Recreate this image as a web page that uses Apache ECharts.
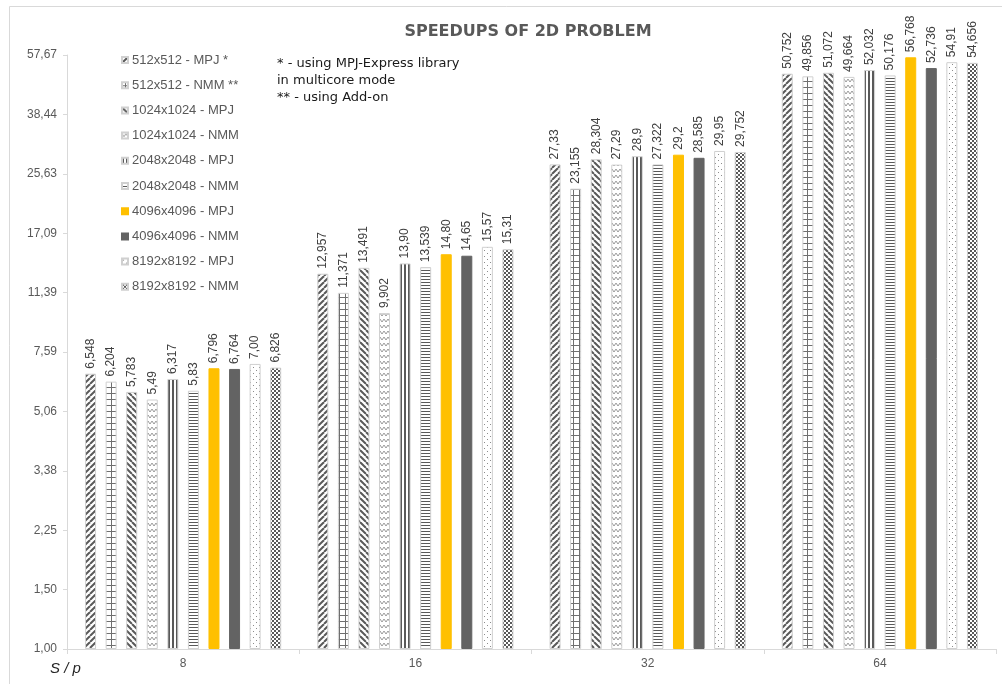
<!DOCTYPE html>
<html><head><meta charset="utf-8">
<script src="https://cdn.jsdelivr.net/npm/echarts@6/dist/echarts.min.js"></script>
<style>html,body{margin:0;padding:0;background:#fff}#c{width:1002px;height:684px}</style>
</head><body><div id="c"></div>
<script>
const categories = ['8', '16', '32', '64'];
const seriesNames = ['512x512 - MPJ *', '512x512 - NMM **', '1024x1024 - MPJ', '1024x1024 - NMM',
  '2048x2048 - MPJ', '2048x2048 - NMM', '4096x4096 - MPJ', '4096x4096 - NMM', '8192x8192 - MPJ', '8192x8192 - NMM'];
const v512MPJ   = ['6.548', '12.957', '27.33', '50.752'];
const v512NMM   = ['6.204', '11.371', '23.155', '49.856'];
const v1024MPJ  = ['5.783', '13.491', '28.304', '51.072'];
const v1024NMM  = ['5.49', '9.902', '27.29', '49.664'];
const v2048MPJ  = ['6.317', '13.90', '28.9', '52.032'];
const v2048NMM  = ['5.83', '13.539', '27.322', '50.176'];
const v4096MPJ  = ['6.796', '14.80', '29.2', '56.768'];
const v4096NMM  = ['6.764', '14.65', '28.585', '52.736'];
const v8192MPJ  = ['7.00', '15.57', '29.95', '54.91'];
const v8192NMM  = ['6.826', '15.31', '29.752', '54.656'];
const seriesValues = [v512MPJ, v512NMM, v1024MPJ, v1024NMM, v2048MPJ, v2048NMM, v4096MPJ, v4096NMM, v8192MPJ, v8192NMM];
const yMin = 1, logBase = 1.5, yMaxExp = 10;

const FONT = '"Liberation Sans", Arial, sans-serif';

function tile(w, h, draw) {
  const c = document.createElement('canvas');
  c.width = w; c.height = h;
  const g = c.getContext('2d');
  g.fillStyle = '#fff'; g.fillRect(0, 0, w, h);
  draw(g);
  return { image: c, repeat: 'repeat' };
}
const dark = '#595959';
const patterns = [
  tile(6, 6, g => { g.strokeStyle = dark; g.lineWidth = 2; for (let k = -6; k <= 12; k += 6) { g.beginPath(); g.moveTo(k, 6); g.lineTo(k + 6, 0); g.stroke(); } }),
  tile(6, 6, g => { g.fillStyle = '#6f6f6f'; g.fillRect(3, 0, 1, 6); g.fillRect(0, 3, 6, 1); }),
  tile(6, 6, g => { g.strokeStyle = dark; g.lineWidth = 2; for (let k = -6; k <= 12; k += 6) { g.beginPath(); g.moveTo(k, 0); g.lineTo(k + 6, 6); g.stroke(); } }),
  tile(8, 6, g => { g.strokeStyle = '#9a9a9a'; g.lineWidth = 1; g.beginPath(); g.moveTo(0, 1); g.lineTo(2, 4); g.lineTo(4, 1); g.lineTo(6, 4); g.lineTo(8, 1); g.stroke(); }),
  tile(4, 1, g => { g.fillStyle = dark; g.fillRect(0, 0, 2, 1); }),
  tile(1, 3, g => { g.fillStyle = dark; g.fillRect(0, 0, 1, 1); }),
  '#FFC000',
  '#636363',
  tile(6, 6, g => { g.fillStyle = '#8c8c8c'; g.fillRect(1, 1, 1, 1); g.fillRect(4, 4, 1, 1); }),
  tile(4, 4, g => { g.fillStyle = dark; g.fillRect(0, 0, 2, 2); g.fillRect(2, 2, 2, 2); })
];

const chart = echarts.init(document.getElementById('c'), null, { renderer: 'canvas' });
const series = seriesNames.map((name, i) => ({
  name: name,
  type: 'bar',
  barWidth: 11,
  barGap: '87%',
  data: seriesValues[i].map(Number),
  itemStyle: {
    color: patterns[i],
    borderColor: typeof patterns[i] === 'string' ? patterns[i] : '#d0d0d0',
    borderWidth: 1
  },
  label: {
    show: true,
    position: 'top',
    rotate: 90,
    align: 'left',
    verticalAlign: 'middle',
    distance: 5,
    color: '#404040',
    fontSize: 12,
    fontFamily: FONT,
    formatter: p => seriesValues[i][p.dataIndex].replace('.', ',')
  }
}));

chart.setOption({
  animation: false,
  backgroundColor: '#fff',
  title: {
    text: 'SPEEDUPS OF 2D PROBLEM',
    left: 523, top: 19, textAlign: 'center',
    textStyle: { fontFamily: '"DejaVu Sans", Verdana, sans-serif', fontWeight: 'bold', fontSize: 16, color: '#595959' }
  },
  legend: {
    orient: 'vertical', left: 116, top: 48,
    itemWidth: 6, itemHeight: 6, itemGap: 11.2,
    icon: 'rect',
    textStyle: { fontFamily: FONT, fontSize: 13, color: '#595959', lineHeight: 14, padding: [0, 0, 0, -1] },
    data: seriesNames
  },
  grid: { left: 67, right: 6, top: 55, bottom: 35, containLabel: false },
  xAxis: {
    type: 'category', data: categories,
    axisLine: { lineStyle: { color: '#d9d9d9' } },
    axisTick: { show: true, length: 5, lineStyle: { color: '#d9d9d9' } },
    axisLabel: { color: '#595959', fontSize: 12, fontFamily: FONT, margin: 9 }
  },
  yAxis: {
    type: 'log', logBase: logBase, min: yMin, max: Math.pow(logBase, yMaxExp),
    splitNumber: 10, interval: 1,
    axisLine: { show: true, lineStyle: { color: '#d9d9d9' } },
    axisTick: { show: true, length: 4, lineStyle: { color: '#d9d9d9' } },
    splitLine: { show: false },
    axisLabel: { color: '#595959', fontSize: 12, fontFamily: FONT, margin: 10,
      formatter: v => Number(v).toFixed(2).replace('.', ',') }
  },
  graphic: [
    { type: 'rect', left: 7, top: 4, shape: { width: 1200, height: 900 }, style: { fill: 'none', stroke: '#d9d9d9', lineWidth: 1 }, silent: true },
    { type: 'text', left: 277, top: 55, style: { text: '* - using MPJ-Express library\nin multicore mode\n** - using Add-on', font: '13px "DejaVu Sans", Verdana, sans-serif', fill: '#1a1a1a', lineHeight: 17 } },
    { type: 'text', left: 50, top: 661, style: { text: 'S / p', font: 'italic 15px "Liberation Sans", Arial, sans-serif', fill: '#262626' } }
  ],
  series: series
});
</script></body></html>
